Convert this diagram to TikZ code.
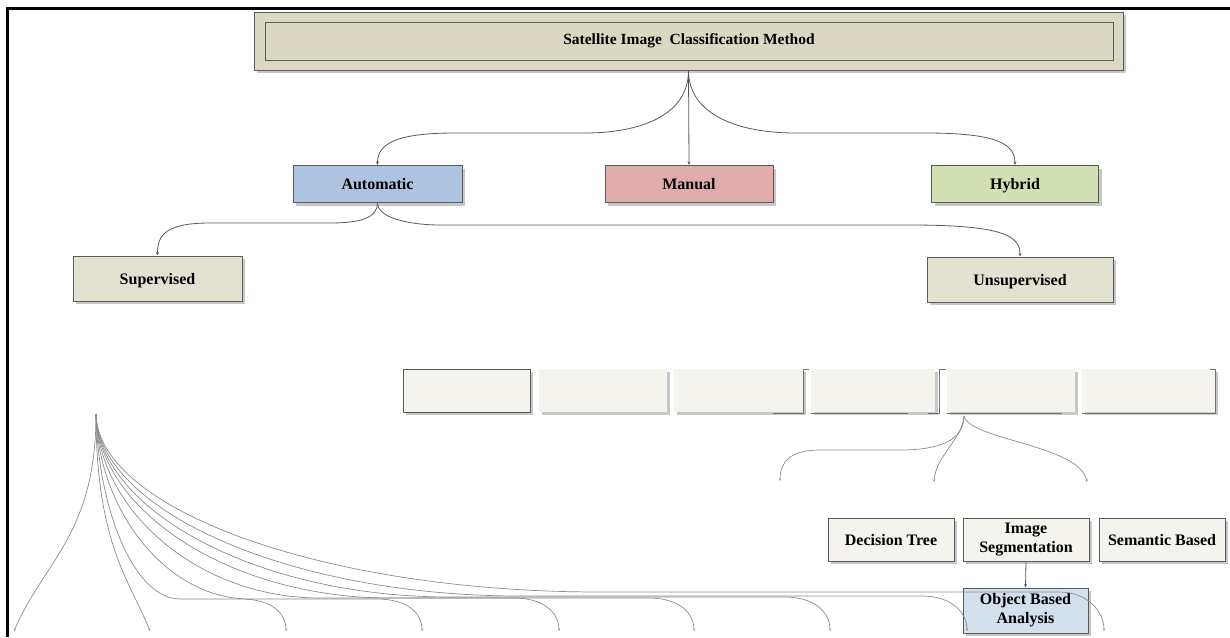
\documentclass[tikz,border=0pt]{standalone}
\usepackage{fontspec}
\setmainfont{Liberation Serif}
\usepackage{tikz}
\usetikzlibrary{arrows.meta,shadows}
\definecolor{khaki}{HTML}{DAD8C1}
\definecolor{sky}{HTML}{ADC3DF}
\definecolor{rose}{HTML}{E0ACAC}
\definecolor{leaf}{HTML}{D2E0B3}
\definecolor{sand}{HTML}{E3E1CF}
\definecolor{chalk}{HTML}{F4F3EE}
\definecolor{mist}{HTML}{D4DFEC}
\definecolor{edge}{HTML}{5A5A5A}

\begin{document}
\begin{tikzpicture}[x=1pt,y=-1pt,
  box/.style={draw=edge,line width=1pt,inner sep=0pt,align=center,
    font=\fontsize{16}{19}\selectfont\bfseries,
    drop shadow={shadow xshift=3pt,shadow yshift=-3pt,fill=black!22,opacity=1}},
  one/.style={text height=11pt,text depth=0pt},
  pale/.style={box,draw=none,fill=chalk,minimum height=43pt},
  conn/.style={draw=black!65,line width=0.8pt,-{Stealth[length=3.5pt,width=3pt]}},
  fan/.style={draw=black!45,line width=0.7pt,-{Stealth[length=2.5pt,width=2pt]}},
  frag/.style={draw=black!55,line width=0.8pt}
]
\useasboundingbox (0,0) rectangle (1230,637);
% frame
\draw[line width=3pt] (1230,8) -- (7,8) -- (7,637);
% root
\node[box,fill=khaki,minimum width=869pt,minimum height=58pt] (top) at (688.5,41) {};
\node[draw=edge,line width=0.8pt,inner sep=0pt,minimum width=848pt,minimum height=38pt,
  font=\fontsize{15.5}{18}\selectfont\bfseries] (title) at (689,41) {Satellite Image\ \ Classification Method};
% first level
\node[box,one,fill=sky,minimum width=169pt,minimum height=37pt] (auto) at (377.5,184) {Automatic};
\node[box,one,fill=rose,minimum width=168pt,minimum height=37pt] (manual) at (689,184) {Manual};
\node[box,one,fill=leaf,minimum width=167pt,minimum height=37pt] (hybrid) at (1015,184) {Hybrid};
% second level
\node[box,one,fill=sand,minimum width=169pt,minimum height=45pt] (sup) at (157.5,278.5) {Supervised};
\node[box,one,fill=sand,minimum width=186pt,minimum height=45pt] (unsup) at (1020,279.5) {Unsupervised};
% empty row
\node[box,fill=chalk,minimum width=127pt,minimum height=43pt] (r1) at (466.5,390.5) {};
\foreach \n/\x/\w in {r2/603/128,r3/738.5/129,r4/873/124,r5/1011/128,r6/1148.5/133}
  {\node[pale,minimum width=\w pt] (\n) at (\x,390.5) {};}
\draw[frag] (773,413) -- (803,413) -- (803,369) -- (809,369);
\draw[frag] (811,413) -- (908,413);
\draw[frag] (928,413) -- (939,413) -- (939,369) -- (946,369);
\draw[frag] (947,413) -- (1062,413);
\draw[frag] (1082,413) -- (1215,413) -- (1215,369) -- (1210,369);
% bottom boxes
\node[box,one,fill=chalk,minimum width=126pt,minimum height=43pt] (dtree) at (891,539.5) {Decision Tree};
\node[box,fill=chalk,minimum width=126pt,minimum height=43pt] (iseg) at (1026,539.5) {Image\\Segmentation};
\node[box,one,fill=chalk,minimum width=126pt,minimum height=43pt] (sem) at (1162,539.5) {Semantic Based};
\node[box,fill=mist,minimum width=125pt,minimum height=45pt] (oba) at (1025.5,610.5) {Object Based\\Analysis};

% connectors
\draw[conn] (top.south) .. controls +(0,45) and +(55,0) .. (585,133) -- (455,133) .. controls +(-62,0) and +(0,-20) .. (auto.north);
\draw[conn] (top.south) -- (manual.north);
\draw[conn] (top.south) .. controls +(0,45) and +(-55,0) .. (795,133) -- (925,133) .. controls +(70,0) and +(0,-22) .. (hybrid.north);
\draw[conn] (auto.south) .. controls +(0,15) and +(30,0) .. (330,223) -- (210,223) .. controls +(-45,0) and +(0,-20) .. (sup.north);
\draw[conn] (auto.south) .. controls +(0,15) and +(-30,0) .. (440,225) -- (910,225) .. controls +(95,0) and +(0,-20) .. (unsup.north);
\draw[conn] (iseg.south) -- (oba.north);

% fan under the row
\coordinate (sfan) at (964,416);
\coordinate (s1) at (780,481);
\coordinate (s2) at (934,482);
\coordinate (s3) at (1087,482);
\draw[fan] (sfan) .. controls +(0,24) and +(40,0) .. (900,450) -- (820,450) .. controls +(-30,0) and +(0,-19) .. (s1);
\draw[fan] (sfan) .. controls +(-2,24) and +(2,-27) .. (s2);
\draw[fan] (sfan) .. controls +(6,24) and +(-7,-37) .. (s3);

% left fan
\coordinate (lfan) at (96,414);
\coordinate (e14) at (14,631);
\coordinate (e150) at (150,631);
\draw[fan] (lfan) .. controls +(0,120) and +(30,-70) .. (e14);
\draw[fan] (lfan) .. controls +(0,130) and +(-20,-50) .. (e150);
\foreach \x/\m/\h in {286/180/599,422/250/599,559/320/598,694/390/598,830/450/597,967/520/596,1104/600/592} {
  \coordinate (e\x) at (\x,631);
  \draw[fan] (lfan) .. controls +(2,95) and +({-0.55*(\m-96)},0) .. (\m,\h) -- ({\x-45},\h) .. controls +(30,0) and +(0,-18) .. (e\x);
}
\end{tikzpicture}
\end{document}
